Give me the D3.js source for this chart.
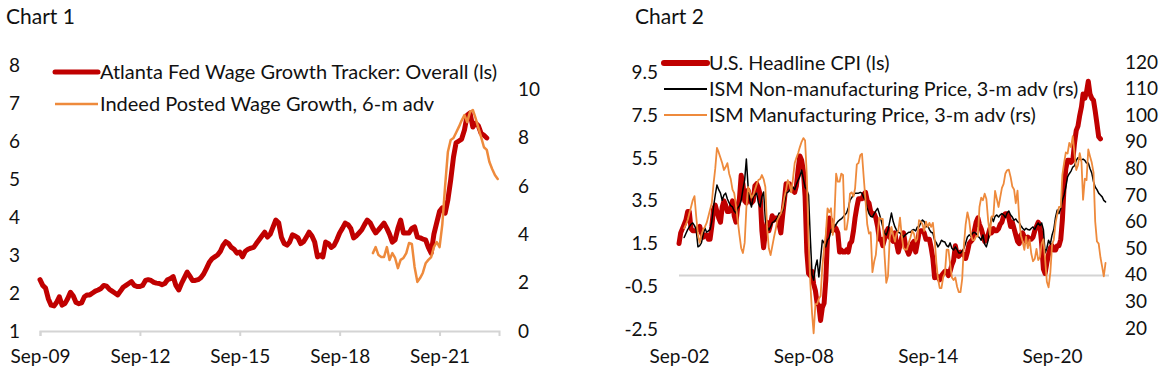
<!DOCTYPE html>
<html>
<head>
<meta charset="utf-8">
<script src="https://cdn.jsdelivr.net/npm/d3@7"></script>
<style>
  body { margin: 0; background: #fff; }
  svg text { font-family: Lato, 'Open Sans', sans-serif; fill: #111; }
</style>
</head>
<body>
<script>
// ---- chart 1 data (monthly) ----
var wageStart = new Date(2009, 8, 1);   // Sep-09
var wageGrowth = [
  2.35, 2.2, 2.13, 1.85, 1.68, 1.66, 1.75, 1.9, 1.68, 1.72, 1.85, 2.02,
  1.92, 1.75, 1.72, 1.74, 1.9, 1.95, 1.95, 2.0, 2.05, 2.08, 2.12, 2.2,
  2.18, 2.1, 2.05, 2.0, 1.95, 2.05, 2.15, 2.2, 2.25, 2.3, 2.2, 2.17,
  2.17, 2.2, 2.33, 2.35, 2.33, 2.28, 2.26, 2.25, 2.22, 2.25, 2.35, 2.38,
  2.43, 2.2, 2.08, 2.25, 2.4, 2.55, 2.45, 2.33, 2.33, 2.35, 2.4, 2.5,
  2.65, 2.8, 2.9, 2.95, 3.0, 3.1, 3.25, 3.35, 3.3, 3.2, 3.15, 3.05,
  3.08, 2.95, 3.1, 3.15, 3.18, 3.2, 3.3, 3.4, 3.5, 3.6, 3.47, 3.55,
  3.74, 3.92, 3.85, 3.47, 3.3, 3.26, 3.34, 3.53, 3.5, 3.45, 3.3, 3.35,
  3.47, 3.6, 3.5, 3.34, 2.95, 3.0, 2.95, 3.34, 3.3, 3.2, 3.25, 3.4,
  3.58, 3.7, 3.84, 3.8, 3.7, 3.45, 3.5, 3.58, 3.66, 3.8, 3.92, 3.85,
  3.7, 3.58, 3.66, 3.75, 3.84, 3.7, 3.55, 3.34, 3.4, 3.7, 3.92, 3.58,
  3.58, 3.58, 3.7, 3.74, 3.47, 3.45, 3.42, 3.4, 3.2, 3.05, 3.55, 3.85,
  4.15, 4.24, 4.1, 4.45, 4.97, 5.58, 5.95, 6.0, 6.05, 6.29, 6.68, 6.74,
  6.37, 6.47, 6.4, 6.2, 6.15, 6.08
];
var indeedStart = new Date(2019, 2, 1);  // data month, shown 6 months ahead
var indeedWage = [
  3.22, 3.47, 3.14, 3.06, 3.06, 3.47, 2.94, 3.22, 3.02, 2.6, 2.94, 3.02,
  3.22, 3.64, 3.6, 2.65, 2.03, 2.2, 2.4, 2.8, 2.94, 3.06, 3.47, 3.68,
  3.47, 4.4, 6.0, 7.4, 7.9, 7.98, 8.2, 8.44, 8.7, 8.93, 8.64, 9.06,
  9.14, 8.8, 8.4, 8.02, 7.6, 7.49, 7.0, 6.7, 6.45, 6.29
];
var chart1Ticks = ['Sep-09', 'Sep-12', 'Sep-15', 'Sep-18', 'Sep-21'];
var chart1Left = [1, 2, 3, 4, 5, 6, 7, 8];
var chart1Right = [0, 2, 4, 6, 8, 10];

// ---- chart 2 data (monthly, from Sep-02) ----
var cpiStart = new Date(2002, 8, 1);
var headlineCPI = [
  1.5, 2.0, 2.2, 2.4,
  2.6, 3.0, 3.0, 2.2, 2.1, 2.1, 2.1, 2.2, 2.3, 2.0, 1.8, 1.9,
  1.9, 1.7, 1.7, 2.3, 3.1, 3.3, 3.0, 2.7, 2.5, 3.2, 3.5, 3.3,
  3.0, 3.0, 3.1, 3.5, 2.8, 2.5, 3.2, 3.6, 4.7, 4.3, 3.5, 3.4,
  4.0, 3.6, 3.4, 3.5, 4.2, 4.3, 4.1, 3.8, 2.1, 1.3, 2.0, 2.5,
  2.1, 2.4, 2.8, 2.6, 2.7, 2.7, 2.4, 2.0, 2.8, 3.5, 4.3, 4.1,
  4.3, 4.0, 4.0, 3.9, 4.2, 5.0, 5.6, 5.4, 4.9, 3.7, 1.1, 0.1,
  0.0, 0.2, -0.4, -0.7, -1.3, -1.4, -2.1, -1.5, -1.3, -0.2, 1.8, 2.7,
  2.6, 2.1, 2.3, 2.2, 2.0, 1.1, 1.2, 1.1, 1.1, 1.2, 1.1, 1.5,
  1.6, 2.1, 2.7, 3.2, 3.6, 3.6, 3.6, 3.8, 3.9, 3.5, 3.4, 3.0,
  2.9, 2.9, 2.7, 2.3, 1.7, 1.7, 1.4, 1.7, 2.0, 2.2, 1.8, 1.7,
  1.6, 2.0, 1.5, 1.1, 1.4, 1.8, 2.0, 1.5, 1.2, 1.0, 1.2, 1.5,
  1.6, 1.1, 1.5, 2.0, 2.1, 2.1, 2.0, 1.7, 1.7, 1.7, 1.3, 0.8,
  -0.1, 0.0, -0.1, -0.2, 0.0, 0.1, 0.2, 0.2, 0.0, 0.2, 0.5, 0.7,
  1.4, 1.0, 0.9, 1.1, 1.0, 1.0, 0.8, 1.1, 1.5, 1.6, 1.7, 2.1,
  2.5, 2.7, 2.4, 2.2, 1.9, 1.6, 1.7, 1.9, 2.2, 2.0, 2.2, 2.1,
  2.1, 2.2, 2.4, 2.5, 2.8, 2.9, 2.9, 2.7, 2.3, 2.5, 2.2, 1.9,
  1.6, 1.5, 1.9, 2.0, 1.8, 1.6, 1.8, 1.7, 1.7, 1.8, 2.1, 2.3,
  2.5, 2.3, 1.5, 0.3, 0.1, 0.6, 1.0, 1.3, 1.4, 1.2, 1.2, 1.4,
  1.4, 1.7, 2.6, 4.2, 5.0, 5.4, 5.4, 5.3, 5.4, 6.2, 6.8, 7.0,
  7.5, 7.9, 8.5, 8.3, 8.6, 9.1, 8.5, 8.3, 8.2, 7.7, 7.1, 6.5,
  6.4
];
// ISM series by data month (Sep-02 on), drawn 3 months ahead
var ismServicesPrice = [
  54, 55.5, 57, 58,
  59, 59.5, 58.5, 57, 50.5, 51, 52, 55, 57.6, 56, 56.5, 57,
  60, 65.5, 70, 73.8, 72, 70.7, 68, 70, 70.7, 68.5, 67, 66,
  65.5, 64, 63.2, 65, 66, 68, 72, 75.6, 83.5, 73, 68, 65.5,
  69.3, 70, 70.7, 67, 65.5, 69.3, 71.1, 60.6, 58, 56.8, 58, 59.5,
  60, 60.6, 61.5, 63.2, 63, 64, 67, 70.7, 71, 71.9, 72.5, 73,
  72, 74, 75.6, 77, 79.4, 76, 73, 71.9, 70, 54, 40, 38,
  43, 45.6, 39.2, 46, 53, 52, 50.5, 53, 54, 56.8, 57.5, 58,
  59, 60, 60.6, 61, 61.7, 62.5, 63.2, 65, 68, 69, 70, 70.7,
  70.7, 70.7, 71, 70.7, 69, 68, 65, 63, 62, 61.7, 63, 64,
  65, 63, 60.6, 58, 55.7, 55, 56.8, 60, 63.2, 60, 58, 56.8,
  56, 55.7, 55, 54.2, 55, 55.5, 56, 56, 56.8, 57, 56.5, 58,
  58, 59.5, 60.6, 60, 58, 58.5, 57, 56, 55.7, 53, 52, 50.5,
  51.5, 53, 52.5, 52.3, 51, 50.5, 52, 50, 49.3, 50.5, 49.5, 48.2,
  48.2, 49, 50, 52, 54.2, 55, 54.5, 55.7, 56, 55.5, 54.5, 54,
  53, 55, 51.5, 50.5, 53, 58, 61.7, 60, 62, 62.5, 61.7, 62.5,
  63, 62.5, 61.5, 63.2, 64, 62.5, 61.7, 60.5, 61, 60, 59.5, 58.5,
  57.5, 56.8, 57.5, 57, 56.8, 57.5, 58, 57, 58.5, 59.5, 58.5, 59.5,
  57, 48.2, 50, 53, 51.5, 55, 57, 61.7, 64.4, 63, 65, 68,
  70, 73, 76.8, 78, 79, 80.5, 81, 83, 84, 83.5, 83.2, 83.5,
  83, 82, 82, 80, 78.3, 75, 73, 72, 70.7, 70, 69.3, 68,
  67.4
];
var ismMfgPrice = [
  57.5, 59, 60.6, 63,
  65.5, 68, 69.6, 62, 55, 52, 55, 57, 58, 59.5, 62, 64.5,
  67, 74, 80, 87.7, 86, 84, 82, 79.4, 80.5, 82, 78, 76,
  72, 70.7, 66, 60.6, 55, 50, 48.2, 52, 65, 73, 71, 69,
  70, 72, 74, 75.6, 76, 77.5, 76, 73, 58, 50, 47.4, 50.5,
  54, 57, 60.6, 62, 63, 65, 69, 72, 75.6, 74, 71, 76,
  82, 84, 85.8, 88, 90, 91.4, 90.5, 77, 53.5, 37, 25.5, 18,
  29, 29, 31, 32, 43, 50, 55, 65, 63.5, 65, 55, 61.5,
  78, 75, 75, 78, 77.5, 57, 57, 61.5, 70.5, 71, 69.5, 72.5,
  81.5, 82, 85, 85.5, 76.5, 68, 59, 55.5, 56, 41, 45, 47.5,
  55.5, 61.5, 61, 61, 47.5, 37, 39.5, 54, 58, 55, 52.5, 55.5,
  56.5, 61.5, 54.5, 50, 49.5, 49.5, 52, 54, 56.5, 55.5, 52.5, 53.5,
  60.5, 60, 59, 56.5, 60, 58, 59.5, 58, 59.5, 53.5, 44.5, 38.5,
  35, 35, 39, 40.5, 49.5, 49.5, 44, 39, 38, 39, 35.5, 33.5,
  33.5, 38.5, 51.5, 59, 63.5, 60.5, 55, 53, 53, 54.5, 54.5, 65.5,
  69, 68, 70.5, 68.5, 60.5, 55, 62, 62, 71.5, 68.5, 65.5, 69,
  72.7, 74.2, 78.1, 79.3, 79.5, 76.8, 73.2, 72.1, 66.9, 71.6, 60.7, 54.9,
  52.5, 49.4, 54.3, 50, 53.2, 47.9, 45.1, 46, 49.7, 45.5, 46.7, 51.7,
  53.3, 45.9, 37.4, 35.3, 40.8, 51.3, 53.2, 59.5, 62.8, 65.5, 65.4, 77.6,
  82.1, 86, 85.6, 89.6, 88, 92.1, 85.7, 79.4, 81.2, 85.7, 82.4, 68.2,
  76.1, 75.6, 87.1, 84.6, 82.2, 78.5, 60, 52.5, 51.7, 46.6, 43, 39.4,
  44.5
];
var chart2Ticks = ['Sep-02', 'Sep-08', 'Sep-14', 'Sep-20'];
var chart2Left = [-2.5, -0.5, 1.5, 3.5, 5.5, 7.5, 9.5];
var chart2Right = [20, 30, 40, 50, 60, 70, 80, 90, 100, 110, 120];

var RED = '#c00000', ORANGE = '#ee8a3c', GREY = '#d4d4d4';
var parseTick = d3.timeParse('%b-%y');
var fmtTick = d3.timeFormat('%b-%y');

var svg = d3.select('body').append('svg')
  .attr('width', 1165)
  .attr('height', 373);

// month series -> [{date, v}], shifted by lead months
var toPoints = function(start, values, lead){
  return values.map(function(v, i){
    return { date: new Date(start.getFullYear(), start.getMonth() + i + lead, 1), v: v };
  });
};

var drawLine = function(g, pts, x, y, color, width){
  g.append('path')
    .datum(pts)
    .attr('fill', 'none')
    .attr('stroke', color)
    .attr('stroke-width', width)
    .attr('stroke-linejoin', 'round')
    .attr('stroke-linecap', 'round')
    .attr('d', d3.line().x(function(d){ return x(d.date); }).y(function(d){ return y(d.v); }));
};

var valueAxis = function(g, axis, xpos, anchor){
  g.append('g')
    .attr('transform', 'translate(' + xpos + ',0)')
    .call(axis.tickSize(0).tickPadding(0))
    .call(function(a){ a.select('.domain').remove(); })
    .selectAll('text')
    .attr('font-size', 19)
    .attr('font-family', null)
    .attr('text-anchor', anchor)
    .attr('fill', '#111');
};

var legend = function(g, items, x0, y0, step, fs){
  items.forEach(function(it, i){
    var yy = y0 + i * step;
    g.append('line')
      .attr('x1', x0).attr('x2', x0 + 43)
      .attr('y1', yy).attr('y2', yy)
      .attr('stroke', it.color)
      .attr('stroke-width', it.width)
      .attr('stroke-linecap', it.width > 3 ? 'round' : 'butt');
    g.append('text')
      .attr('x', x0 + 45).attr('y', yy)
      .attr('dy', '0.35em')
      .attr('font-size', fs)
      .text(it.label);
  });
};

var drawChart1 = function(){
  var g = svg.append('g');
  var x = d3.scaleTime().domain([new Date(2009, 8, 1), new Date(2023, 5, 15)]).range([40, 499]);
  var yL = d3.scaleLinear().domain([1, 8]).range([331, 65]);
  var yR = d3.scaleLinear().domain([0, 11]).range([331, 65]);

  g.append('text').attr('x', 6).attr('y', 24).attr('font-size', 21).text('Chart 1');

  var xa = g.append('g')
    .attr('transform', 'translate(0,331)')
    .call(d3.axisBottom(x).tickValues(chart1Ticks.map(parseTick)).tickFormat(fmtTick).tickSize(5).tickPadding(14));
  xa.select('.domain').attr('stroke', GREY).attr('stroke-width', 2);
  xa.selectAll('.tick line').attr('stroke', GREY).attr('stroke-width', 2);
  xa.selectAll('text').attr('font-size', 19).attr('font-family', null).attr('fill', '#111');

  valueAxis(g, d3.axisLeft(yL).tickValues(chart1Left).tickFormat(d3.format('d')), 20, 'end');
  valueAxis(g, d3.axisRight(yR).tickValues(chart1Right).tickFormat(d3.format('d')), 518, 'start');

  drawLine(g, toPoints(wageStart, wageGrowth, 0), x, yL, RED, 5);
  drawLine(g, toPoints(indeedStart, indeedWage, 6), x, yR, ORANGE, 2.5);

  legend(g, [
    { label: 'Atlanta Fed Wage Growth Tracker: Overall (ls)', color: RED, width: 5 },
    { label: 'Indeed Posted Wage Growth, 6-m adv', color: ORANGE, width: 2.5 }
  ], 55, 72, 32, 20);
};

var drawChart2 = function(){
  var g = svg.append('g');
  var x = d3.scaleTime().domain([new Date(2002, 8, 1), new Date(2023, 5, 1)]).range([679, 1109]);
  var yL = d3.scaleLinear().domain([-2.5, 10]).range([329, 62]);
  var yR = d3.scaleLinear().domain([20, 120]).range([328, 62]);

  g.append('text').attr('x', 635).attr('y', 24).attr('font-size', 21).text('Chart 2');

  g.append('line')
    .attr('x1', x.range()[0]).attr('x2', x.range()[1])
    .attr('y1', yL(0)).attr('y2', yL(0))
    .attr('stroke', GREY).attr('stroke-width', 2);

  var xa = g.append('g')
    .attr('transform', 'translate(0,331)')
    .call(d3.axisBottom(x).tickValues(chart2Ticks.map(parseTick)).tickFormat(fmtTick).tickSize(0).tickPadding(19));
  xa.select('.domain').remove();
  xa.selectAll('text').attr('font-size', 19).attr('font-family', null).attr('fill', '#111');

  valueAxis(g, d3.axisLeft(yL).tickValues(chart2Left).tickFormat(function(d){ return d.toFixed(1); }), 658, 'end');
  valueAxis(g, d3.axisRight(yR).tickValues(chart2Right).tickFormat(d3.format('d')), 1125, 'start');

  drawLine(g, toPoints(cpiStart, headlineCPI, 0), x, yL, RED, 5);
  drawLine(g, toPoints(cpiStart, ismServicesPrice, 3), x, yR, '#000', 1.5);
  drawLine(g, toPoints(cpiStart, ismMfgPrice, 3), x, yR, ORANGE, 1.8);

  legend(g, [
    { label: 'U.S. Headline CPI (ls)', color: RED, width: 6 },
    { label: 'ISM Non-manufacturing Price, 3-m adv (rs)', color: '#000', width: 2 },
    { label: 'ISM Manufacturing Price, 3-m adv (rs)', color: ORANGE, width: 2 }
  ], 664, 63, 26, 19.8);
};

drawChart1();
drawChart2();
</script>
</body>
</html>
